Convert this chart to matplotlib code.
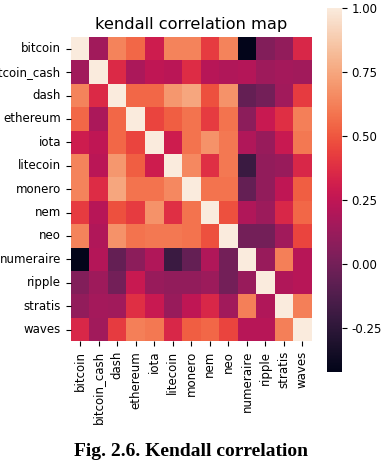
import numpy as np
import pandas as pd
import matplotlib
matplotlib.use("Agg")
import matplotlib.pyplot as plt
import seaborn as sns

# names of the coins
coins = ['bitcoin', 'bitcoin_cash', 'dash', 'ethereum', 'iota', 'litecoin', 'monero',
         'nem', 'neo', 'numeraire', 'ripple', 'stratis', 'waves']

# kendall correlation values (row by row)
r_bitcoin      = [1.00, 0.15, 0.63, 0.55, 0.30, 0.63, 0.63, 0.42, 0.63, -0.42, 0.05, 0.10, 0.35]
r_bitcoin_cash = [0.15, 1.00, 0.36, 0.18, 0.25, 0.23, 0.37, 0.22, 0.20, 0.21, 0.14, 0.16, 0.15]
r_dash         = [0.63, 0.36, 1.00, 0.55, 0.55, 0.70, 0.75, 0.48, 0.68, -0.05, 0.00, 0.15, 0.42]
r_ethereum     = [0.55, 0.18, 0.55, 1.00, 0.45, 0.52, 0.58, 0.42, 0.58, 0.08, 0.28, 0.38, 0.62]
r_iota         = [0.30, 0.25, 0.55, 0.45, 1.00, 0.30, 0.58, 0.68, 0.60, 0.20, 0.12, 0.28, 0.60]
r_litecoin     = [0.63, 0.23, 0.70, 0.52, 0.30, 1.00, 0.65, 0.38, 0.60, -0.20, 0.10, 0.12, 0.35]
r_monero       = [0.63, 0.37, 0.75, 0.58, 0.58, 0.65, 1.00, 0.58, 0.58, -0.05, 0.10, 0.25, 0.52]
r_nem          = [0.42, 0.22, 0.48, 0.42, 0.68, 0.38, 0.58, 1.00, 0.48, 0.20, 0.13, 0.35, 0.55]
r_neo          = [0.63, 0.20, 0.68, 0.58, 0.60, 0.60, 0.58, 0.48, 1.00, 0.00, 0.00, 0.15, 0.45]
r_numeraire    = [-0.42, 0.21, -0.05, 0.08, 0.20, -0.20, -0.05, 0.20, 0.00, 1.00, 0.12, 0.62, 0.22]
r_ripple       = [0.05, 0.14, 0.00, 0.28, 0.12, 0.10, 0.10, 0.13, 0.00, 0.12, 1.00, 0.20, 0.22]
r_stratis      = [0.10, 0.16, 0.15, 0.38, 0.28, 0.12, 0.25, 0.35, 0.15, 0.62, 0.20, 1.00, 0.62]
r_waves        = [0.35, 0.15, 0.42, 0.62, 0.60, 0.35, 0.52, 0.55, 0.45, 0.22, 0.22, 0.62, 1.00]

cbar_ticks = [-0.25, 0.0, 0.25, 0.5, 0.75, 1.0]

corr = pd.DataFrame([r_bitcoin, r_bitcoin_cash, r_dash, r_ethereum, r_iota, r_litecoin,
                     r_monero, r_nem, r_neo, r_numeraire, r_ripple, r_stratis, r_waves],
                    index=coins, columns=coins)

fig = plt.figure(figsize=(3.83, 4.63), dpi=100)
ax = fig.add_axes([0.185, 0.263, 0.629, 0.657])
cax = fig.add_axes([0.854, 0.197, 0.039, 0.786])

sns.heatmap(corr, ax=ax, cbar_ax=cax, cmap='rocket',
            cbar_kws={'ticks': cbar_ticks, 'format': '%.2f'})
ax.set_title('kendall correlation map', fontsize=11.7)
ax.tick_params(labelsize=8.5)
plt.setp(ax.get_xticklabels(), rotation=90)
plt.setp(ax.get_yticklabels(), rotation=0)
cax.tick_params(labelsize=8.5)

# caption under the chart
fig.text(0.5, 0.016, 'Fig. 2.6. Kendall correlation', ha='center', fontsize=14,
         fontweight='bold', family='Liberation Serif')

fig.savefig('out.png', dpi=100)
